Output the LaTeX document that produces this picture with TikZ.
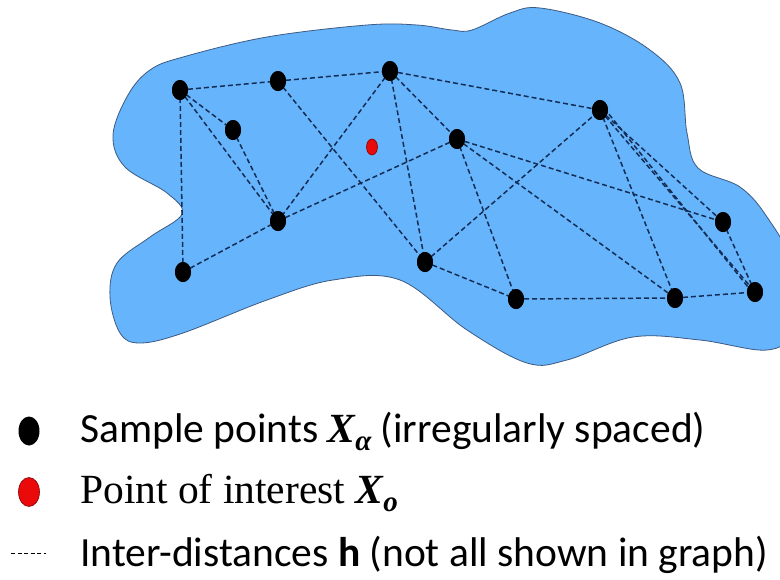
\documentclass[tikz,border=0pt]{standalone}
\usetikzlibrary{shapes.geometric}
\usepackage{fontspec}
\setmainfont{Carlito}
\newfontfamily\serifcam{Liberation Serif}
\definecolor{blobblue}{RGB}{102,180,252}
\definecolor{blobedge}{RGB}{60,90,130}
\definecolor{edgeblue}{RGB}{20,45,85}
\definecolor{ptred}{RGB}{235,10,10}
\begin{document}
\begin{tikzpicture}[x=1pt,y=-1pt,
  sample/.style={ellipse,fill=black,inner sep=0pt,minimum width=16pt,minimum height=20pt},
  interest/.style={ellipse,fill=ptred,draw=red!50!black,line width=0.6pt,inner sep=0pt,minimum width=11pt,minimum height=16pt},
  hedge/.style={draw=edgeblue,line width=1.5pt,dash pattern=on 5pt off 3pt},
  legtext/.style={anchor=base west,inner sep=0pt,font=\fontsize{41.5}{48}\selectfont}]
\useasboundingbox (0,0) rectangle (780,579);
\begin{scope}
\clip (0,0) rectangle (780,579);
\fill[blobblue,draw=blobedge,line width=0.8pt] plot[smooth cycle,tension=0.6] coordinates {
 (113,135) (128,95) (150,70) (183,57) (267,37) (367,25) (417,25) (452,30) (472,30)
 (510,13) (540,8) (600,23) (650,50) (680,83) (687,133) (698,168) (740,187) (767,217)
 (790,262) (790,330) (767,350) (700,340) (633,337) (567,360) (527,363) (467,330)
 (400,280) (333,280) (267,300) (183,333) (140,343) (120,333) (110,297) (117,263)
 (150,237) (182,214) (167,193) (125,167)};
\end{scope}
% sample points
\node[sample] (A) at (180,90) {};
\node[sample] (B) at (278,81) {};
\node[sample] (C) at (390,71) {};
\node[sample] (D) at (233,130) {};
\node[sample] (E) at (457,139) {};
\node[sample] (F) at (278,221) {};
\node[sample] (G) at (183,272) {};
\node[sample] (H) at (425,262) {};
\node[sample] (I) at (600,110) {};
\node[sample] (J) at (516,299) {};
\node[sample] (K) at (675,298) {};
\node[sample] (L) at (723,222) {};
\node[sample] (M) at (755,292) {};
\node[interest] (R) at (372,147) {};
% inter-distances
\foreach \u/\v in {A/B,A/D,A/F,A/G,D/F,B/C,B/H,C/F,C/H,C/E,C/I,F/E,G/F,E/J,E/K,E/L,H/I,H/J,J/K,K/M,I/K,I/L,I/M,L/M}
  \path[hedge] (\u.center) -- (\v.center);
\path[hedge] ([xshift=4pt,yshift=2pt]I.center) -- ([xshift=-3pt]M.center);
% redraw points over lines
\foreach \n/\x/\y in {A/180/90,B/278/81,C/390/71,D/233/130,E/457/139,F/278/221,G/183/272,H/425/262,I/600/110,J/516/299,K/675/298,L/723/222,M/755/292}
  \node[sample] at (\x,\y) {};
% legend
\node[sample,minimum width=21pt,minimum height=29pt] (lgA) at (29,431) {};
\node[interest,minimum width=21pt,minimum height=29pt] (lgR) at (29,492) {};
\coordinate (lgH1) at (11,553);
\coordinate (lgH2) at (46,553);
\draw[black,line width=0.8pt,dash pattern=on 4pt off 2.5pt] (lgH1) -- (lgH2);
\node[legtext] (t1) at (80,442) {Sample points {\serifcam\bfseries\itshape X\raisebox{-8pt}{\fontsize{29}{29}\selectfont α}} (irregularly spaced)};
\node[legtext] (t2) at (80,503) {\serifcam Point of interest {\bfseries\itshape X\raisebox{-8pt}{\fontsize{29}{29}\selectfont o}}};
\node[legtext] (t3) at (80,566) {Inter-distances \textbf{h} (not all shown in graph)};
\end{tikzpicture}
\end{document}
